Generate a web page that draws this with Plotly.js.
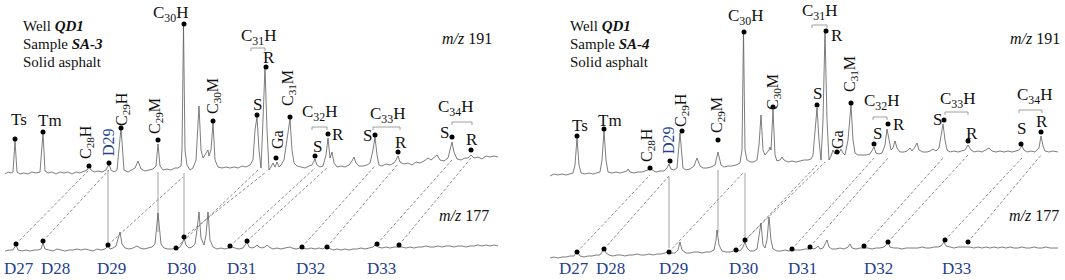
<!DOCTYPE html>
<html><head><meta charset="utf-8">
<script src="https://cdn.plot.ly/plotly-3.0.1.min.js"></script>
<style>html,body{margin:0;padding:0;background:#fff}#chart{width:1065px;height:280px}</style>
</head><body><div id="chart"></div>
<script>
// ---------- Sample SA-3 (left) : m/z 191 chromatogram (retention position, abundance) ----------
const rtA191 = [5,8,11,13,15,17,20,24,28,32,36,40,43,45,48,52,56,60,64,68,72,76,80,84,87,89,91,94,98,102,106,109,111,114,117,121,124,128,132,135,138,141,145,149,153,156,158,160,163,167,171,175,178,181,182,183.5,185,187,190,193,196,199,201,203,205,207,208,209,211,213,215,218,222,226,230,234,238,242,246,250,253,255,257,259,261,263,265,267,269,271,273,275,277,279,281,284,287,290,292,294,297,301,305,309,312,315,317,320,323,326,328,330,332,334,337,341,345,349,352,354,356,359,363,367,370,373,375,377,379,382,386,390,394,396,398,400,404,408,412,416,420,424,428,431,434,437,440,444,448,450,452,454,457,461,465,468,471,474,478,482,486,490,494,498];
const abA191 = [106,108,107,108,139,108,106,107,106,108,107,108,147,109,107,108,106,108,107,108,106,108,107,109,110,114,110,108,109,108,110,116,110,108,110,152,110,108,110,112,119,111,109,110,111,114,136,114,110,111,110,112,112,114,130,255,130,115,110,112,120,174,130,122,125,128,130,124,130,157,120,113,112,113,112,113,112,114,113,115,120,150,163,130,112,160,213,150,110,113,117,113,118,113,115,120,140,161,130,117,114,113,112,114,115,121,115,113,114,125,142,122,128,117,113,114,113,115,119,123,117,114,114,115,117,130,143,125,115,114,116,115,117,120,124,118,116,117,115,118,117,119,122,120,123,125,120,119,122,130,138,128,121,120,122,122,125,122,123,121,124,123,124,123];
// ---------- Sample SA-3 (left) : m/z 177 chromatogram ----------
const rtA177 = [5,9,13,16,18,22,26,30,34,38,41,43,45,49,53,57,61,65,69,73,77,81,85,89,93,97,101,105,108,110,113,116,118,120,122,125,129,133,137,140,144,148,152,155,158,161,164,168,172,176,179,182,184,186,189,192,195,197,199,201,204,206,208,210,213,217,221,225,229,232,235,239,243,245,247,249,252,255,257,259,262,265,267,269,273,277,281,285,288,290,292,296,300,303,307,311,315,319,323,327,329,333,337,341,345,349,353,357,361,365,369,373,376,378,382,386,390,394,398,402,406,410,414,418,422,426,430,434,438,442,446,450,454,458,462,466,470,474,478,482,486,490,494,498];
const abA177 = [29,30,30,35,30,29,30,29,30,30,31,37,31,30,29,31,30,29,30,30,31,30,31,30,29,31,30,31,34,31,32,34,40,48,36,32,31,32,34,32,31,32,33,36,67,36,32,31,31,32,32,36,42,35,32,33,36,50,68,42,35,45,68,40,33,31,32,31,32,33,32,31,32,35,38,33,32,33,35,33,32,33,35,33,31,32,31,32,33,33,32,31,32,32,31,32,31,32,31,34,32,30,31,30,31,30,31,31,32,31,32,33,36,33,32,33,32,33,33,33,32,33,32,33,33,34,33,33,34,33,34,34,33,34,34,33,34,34,35,34,35,34,35,34];
// ---------- Sample SA-4 (right) : m/z 191 ----------
const rtB191 = [550,554,558,562,566,570,573,575,577,579,581,585,589,593,597,600,602,604,606,608,612,616,620,624,627,628,630,634,638,642,646,648,650,652,656,660,664,667,669,671,674,677,680,683,686,690,694,697,700,703,707,711,715,718,721,724,728,732,736,740,742,743.5,745,747,750,754,757,759,761,763,765,767,769,770,771,773,775,777,780,782,784,788,792,796,800,804,808,811,813,815,817,819,821,823,825,827,829,831,833,835,837,839,841,843,845,848,851,853,855,858,862,866,870,872,874,876,879,882,885,887,889,891,893,895,897,900,904,907,910,912,915,917,919,923,927,930,933,936,939,941,943,945,947,950,954,958,962,965,968,971,974,978,982,986,989,992,996,1000,1004,1008,1012,1016,1019,1022,1024,1027,1031,1035,1039,1041,1043,1045,1049,1053,1058];
const abB191 = [104,106,105,106,105,106,107,115,142,115,107,106,107,106,107,108,120,149,120,108,107,108,107,108,109,111,108,107,108,108,109,110,113,110,108,109,109,112,116,111,110,112,147,112,110,111,114,122,114,112,112,113,115,128,115,113,114,114,115,117,130,248,130,120,118,118,120,135,165,130,125,128,130,133,130,170,125,119,120,123,120,118,119,118,119,120,120,121,125,150,172,140,120,160,249,160,120,124,130,126,130,127,131,127,125,140,175,140,127,125,125,125,126,129,133,127,126,127,135,151,140,130,132,139,132,128,128,129,132,129,133,137,130,128,128,129,131,129,132,145,156,140,130,128,129,128,129,130,135,130,128,129,128,130,132,129,128,129,128,129,128,129,130,134,130,128,129,128,132,144,134,129,128,129,128];
// ---------- Sample SA-4 (right) : m/z 177 ----------
const rtB177 = [550,554,558,562,566,570,574,577,580,584,588,592,596,600,602,604,606,609,613,617,621,625,629,633,637,641,645,649,653,657,661,665,669,671,675,678,680,682,686,690,694,698,702,706,710,714,716,717,719,722,726,730,734,737,740,743,745,747,750,754,757,759,761,763,765,767,769,771,773,777,781,785,789,793,797,801,805,809,811,813,816,818,820,823,825,827,829,832,836,840,844,848,850,852,856,860,864,868,872,876,880,884,886,888,890,894,898,902,906,910,914,918,922,926,930,934,938,941,944,946,950,954,958,962,966,970,974,978,982,986,990,994,998,1002,1006,1010,1014,1018,1022,1026,1030,1034,1038,1042,1046,1050,1054,1058];
const abB177 = [22,23,22,23,23,24,24,29,24,23,24,24,25,25,28,33,27,25,24,25,25,24,25,25,26,25,25,26,25,26,26,27,29,27,27,30,38,30,27,27,28,28,27,28,28,30,40,50,35,29,28,28,29,30,29,33,38,32,29,29,31,42,57,35,32,40,63,40,31,29,29,30,29,30,30,30,31,31,33,31,32,34,31,32,36,40,33,31,31,32,31,33,36,32,31,32,32,32,31,32,32,33,35,38,33,32,32,31,32,32,32,32,33,32,32,33,33,34,38,34,33,32,33,33,33,33,32,33,32,33,32,33,32,33,32,33,32,32,33,32,32,33,32,32,33,32,32,32];

// ---------- Identified m/z 191 peaks (apex markers) ----------
const peakNames = ['Ts','Tm','C28H','D29','C29H','C29M','C30H','C30M','C31S','C31R','Ga','C31M','C32S','C32R','C33S','C33R','C34S','C34R'];
const peakRtA = [15,43,89,109,121,158,184,213,257,266,276,290,315,328,375,398,452,471];
const peakAbA = [141,148,114,117,152,140,256,159,165,213,122,163,124,146,145,128,143,130];
const peakRtB = [577,604,650,670,682,718,744,773,817,826,837,851,874,888,944,968,1021,1041];
const peakAbB = [144,151,112,119,149,140,248,173,175,249,128,177,136,156,160,139,136,148];

// ---------- m/z 177 peaks (D series) and the m/z 191 peaks they are linked to ----------
const dNames = ['D27','D28','D29','D30','D30','D31','D31','D32','D32','D33','D33'];
const dRtA = [16,43,108,176,184,230,247,302,327,377,399];
const dAbA = [36,39,35,32,43,34,39,33,33,36,35];
const dRtB = [577,604,669,736,745,792,810,864,888,945,968];
const dAbB = [28,31,28,30,40,31,33,34,38,40,38];
const linkRtA = [89,109,183,258,266,315,328,375,398,452,471];
const linkAbA = [110,110,103,110,108,112,113,114,116,120,122];
const linkRtB = [650,669,744,817,825,874,888,944,968,1022,1042];
const linkAbB = [105,104,108,115,118,122,122,123,125,122,126];

// co-eluting alignment lines (rt, top, bottom)
const alignRtA = [108,158,184], alignTopA = [110,108,107], alignBotA = [37,48,45];
const alignRtB = [669,718,745], alignTopB = [103,110,107], alignBotB = [32,47,40];

// axis tick labels for D series
const dTickLabels = ['D27','D28','D29','D30','D31','D32','D33'];
const dTickRtA = [19,55,111,181,241,310,381];
const dTickRtB = [574,610,673,743,802,878,956];

const FONT = '"Liberation Serif", "Times New Roman", serif';
const BLUE = '#243f8f';
const traces = [];
const annotations = [];

function panel(xa, ya, P) {
  // connectors (dashed)
  const cx = [], cy = [];
  P.dRt.forEach((r, i) => { cx.push(r, P.linkRt[i], null); cy.push(P.dAb[i], P.linkAb[i], null); });
  traces.push({x: cx, y: cy, xaxis: xa, yaxis: ya, mode: 'lines', line: {color: '#707070', width: 0.8, dash: '3px,2px'}, hoverinfo: 'skip'});
  // alignment lines (solid)
  const vx = [], vy = [];
  P.alignRt.forEach((r, i) => { vx.push(r, r, null); vy.push(P.alignTop[i], P.alignBot[i], null); });
  traces.push({x: vx, y: vy, xaxis: xa, yaxis: ya, mode: 'lines', line: {color: '#8a8a8a', width: 0.8}, hoverinfo: 'skip'});
  // chromatograms
  traces.push({x: P.rt191, y: P.ab191, xaxis: xa, yaxis: ya, mode: 'lines', line: {color: '#5c5c5c', width: 0.8}, hoverinfo: 'skip'});
  traces.push({x: P.rt177, y: P.ab177, xaxis: xa, yaxis: ya, mode: 'lines', line: {color: '#5c5c5c', width: 0.8}, hoverinfo: 'skip'});
  // brackets over S/R pairs
  const bx = [], by = [];
  P.brackets.forEach(b => { bx.push(b[0], b[0], b[1], b[1], null); by.push(b[2]-3, b[2], b[2], b[2]-3, null); });
  traces.push({x: bx, y: by, xaxis: xa, yaxis: ya, mode: 'lines', line: {color: '#888', width: 0.8}, hoverinfo: 'skip'});
  // dots
  traces.push({x: P.peakRt.concat(P.dRt), y: P.peakAb.concat(P.dAb), xaxis: xa, yaxis: ya, mode: 'markers',
    marker: {color: '#000', size: 5}, hoverinfo: 'skip'});

  const A = (text, x, y, o) => annotations.push(Object.assign({text, x, y, xref: xa, yref: ya, showarrow: false,
    xanchor: 'center', yanchor: 'middle', font: {family: FONT, size: 17, color: '#111'}}, o || {}));
  P.labels.forEach(l => A(l[0], l[1], l[2]));
  P.rotLabels.forEach(l => A(l[0], l[1], l[2], {textangle: -90, font: {family: FONT, size: 16, color: l[3] || '#111'}}));
  dTickLabels.forEach((t, i) => A(t, P.dTickRt[i], 12, {font: {family: FONT, size: 17, color: BLUE}}));
  A('<i>m/z</i> 191', P.mz[0], 242, {font: {family: FONT, size: 16, color: '#111'}});
  A('<i>m/z</i> 177', P.mz[1], 65, {font: {family: FONT, size: 16, color: '#111'}});
  P.info.forEach((t, i) => A(t, P.infoX, 254 - 18 * i, {xanchor: 'left', font: {family: FONT, size: 15, color: '#111'}}));
}

panel('x', 'y', {
  rt191: rtA191, ab191: abA191, rt177: rtA177, ab177: abA177,
  peakRt: peakRtA, peakAb: peakAbA, dRt: dRtA, dAb: dAbA, linkRt: linkRtA, linkAb: linkAbA,
  alignRt: alignRtA, alignTop: alignTopA, alignBot: alignBotA, dTickRt: dTickRtA,
  brackets: [[251,265,232],[312,327,153],[373,400,153],[452,472,158]],
  labels: [['Ts',19,161],['Tm',50,160],['C<sub>30</sub>H',171,266],['C<sub>31</sub>H',259,243],['R',269,223],['S',257,176],
    ['C<sub>32</sub>H',320,167],['S',317,134],['R',338,146],['C<sub>33</sub>H',388,165],['S',367,145],['R',401,138],
    ['C<sub>34</sub>H',456,172],['S',444,148],['R',472,141]],
  rotLabels: [['C<sub>28</sub>H',86,138],['D29',108,138,BLUE],['C<sub>29</sub>H',122,171],['C<sub>29</sub>M',155,164],
    ['C<sub>30</sub>M',213,184],['C<sub>31</sub>M',288,192],['Ga',277,140]],
  mz: [467, 464], infoX: 21,
  info: ['Well <b><i>QD1</i></b>', 'Sample <b><i>SA-3</i></b>', 'Solid asphalt']
});
panel('x2', 'y2', {
  rt191: rtB191, ab191: abB191, rt177: rtB177, ab177: abB177,
  peakRt: peakRtB, peakAb: peakAbB, dRt: dRtB, dAb: dAbB, linkRt: linkRtB, linkAb: linkAbB,
  alignRt: alignRtB, alignTop: alignTopB, alignBot: alignBotB, dTickRt: dTickRtB,
  brackets: [[812,827,255],[873,887,163],[945,968,168],[1019,1042,170]],
  labels: [['Ts',580,155],['Tm',610,160],['C<sub>30</sub>H',746,263],['C<sub>31</sub>H',820,268],['R',837,245],['S',817,187],
    ['C<sub>32</sub>H',882,178],['S',877,147],['R',899,156],['C<sub>33</sub>H',958,180],['S',937,161],['R',972,147],
    ['C<sub>34</sub>H',1035,184],['S',1021,152],['R',1042,159]],
  rotLabels: [['C<sub>28</sub>H',647,135],['D29',668,140,BLUE],['C<sub>29</sub>H',681,170],['C<sub>29</sub>M',717,165],
    ['C<sub>30</sub>M',773,188],['C<sub>31</sub>M',850,206],['Ga',837,140]],
  mz: [1035, 1034], infoX: 568,
  info: ['Well <b><i>QD1</i></b>', 'Sample <b><i>SA-4</i></b>', 'Solid asphalt']
});

const hidden = {visible: false, fixedrange: true};
const layout = {
  width: 1065, height: 280, margin: {l: 0, r: 0, t: 0, b: 0},
  paper_bgcolor: '#fff', plot_bgcolor: '#fff', showlegend: false,
  xaxis: Object.assign({domain: [0, 0.5], range: [0, 532.5]}, hidden),
  yaxis: Object.assign({domain: [0, 1], range: [0, 280], anchor: 'x'}, hidden),
  xaxis2: Object.assign({domain: [0.5, 1], range: [532.5, 1065], anchor: 'y2'}, hidden),
  yaxis2: Object.assign({domain: [0, 1], range: [0, 280], anchor: 'x2'}, hidden),
  annotations: annotations
};
Plotly.newPlot('chart', traces, layout, {displayModeBar: false, staticPlot: true});
</script>
</body></html>
